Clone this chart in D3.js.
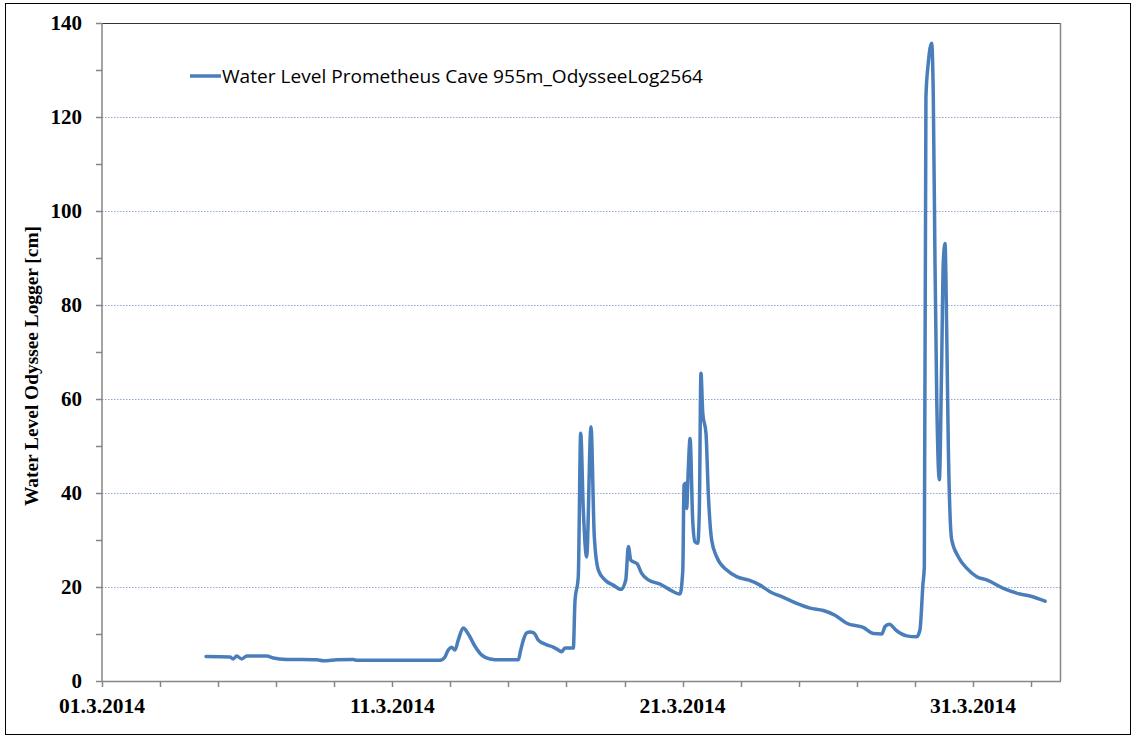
<!DOCTYPE html>
<html>
<head>
<meta charset="utf-8">
<script src="https://cdn.jsdelivr.net/npm/d3@7"></script>
<style>
  body { margin: 0; background: #fff; }
  svg { display: block; }
</style>
</head>
<body>
<svg id="chart" width="1134" height="737"></svg>
<script>
// readings of the logger
const times = [
  "2014-03-04 14:00", "2014-03-05 09:45", "2014-03-05 12:30", "2014-03-05 15:20",
  "2014-03-05 19:30", "2014-03-05 23:40", "2014-03-06 16:10", "2014-03-06 21:40",
  "2014-03-07 08:40", "2014-03-08 09:30", "2014-03-08 15:00", "2014-03-09 02:00",
  "2014-03-09 15:45", "2014-03-09 18:30", "2014-03-12 15:30", "2014-03-12 19:30",
  "2014-03-12 22:15", "2014-03-13 01:00", "2014-03-13 03:50", "2014-03-13 06:30",
  "2014-03-13 10:40", "2014-03-13 14:50", "2014-03-13 20:20", "2014-03-14 02:00",
  "2014-03-14 08:45", "2014-03-14 17:00", "2014-03-15 08:10", "2014-03-15 10:10",
  "2014-03-15 12:20", "2014-03-15 15:00", "2014-03-15 17:50", "2014-03-15 21:10",
  "2014-03-16 00:40", "2014-03-16 07:40", "2014-03-16 13:00", "2014-03-16 17:15",
  "2014-03-16 20:00", "2014-03-16 22:45", "2014-03-17 05:40", "2014-03-17 07:00",
  "2014-03-17 09:45", "2014-03-17 11:45", "2014-03-17 13:55", "2014-03-17 16:40",
  "2014-03-17 20:15", "2014-03-17 23:00", "2014-03-18 02:20", "2014-03-18 07:50",
  "2014-03-18 14:40", "2014-03-18 21:00", "2014-03-19 01:00", "2014-03-19 03:10",
  "2014-03-19 05:10", "2014-03-19 10:30", "2014-03-19 14:10", "2014-03-19 19:40",
  "2014-03-20 05:20", "2014-03-20 13:30", "2014-03-20 21:50", "2014-03-21 00:10",
  "2014-03-21 01:10", "2014-03-21 02:30", "2014-03-21 03:20", "2014-03-21 04:40",
  "2014-03-21 06:10", "2014-03-21 08:20", "2014-03-21 10:15", "2014-03-21 12:30",
  "2014-03-21 13:50", "2014-03-21 15:10", "2014-03-21 16:40", "2014-03-21 19:20",
  "2014-03-21 21:15", "2014-03-22 00:00", "2014-03-22 04:10", "2014-03-22 12:30",
  "2014-03-22 20:40", "2014-03-23 06:20", "2014-03-23 16:00", "2014-03-24 00:15",
  "2014-03-24 11:15", "2014-03-24 22:20", "2014-03-25 09:20", "2014-03-25 20:20",
  "2014-03-26 06:00", "2014-03-26 15:40", "2014-03-27 05:20", "2014-03-27 13:40",
  "2014-03-27 20:40", "2014-03-27 23:20", "2014-03-28 02:50", "2014-03-28 09:00",
  "2014-03-28 17:15", "2014-03-29 01:30", "2014-03-29 04:15", "2014-03-29 05:40",
  "2014-03-29 06:30", "2014-03-29 07:50", "2014-03-29 09:10", "2014-03-29 11:05",
  "2014-03-29 13:55", "2014-03-29 15:15", "2014-03-29 16:40", "2014-03-29 18:05",
  "2014-03-29 20:15", "2014-03-29 22:10", "2014-03-29 23:30", "2014-03-30 00:55",
  "2014-03-30 02:20", "2014-03-30 03:40", "2014-03-30 05:00", "2014-03-30 06:30",
  "2014-03-30 12:00", "2014-03-30 18:50", "2014-03-31 03:10", "2014-03-31 11:25",
  "2014-04-01 01:10", "2014-04-01 15:00", "2014-04-01 23:10", "2014-04-02 11:40"
]
const levels = [
  5.2, 5.1, 4.7, 5.3,
  4.7, 5.3, 5.3, 4.9,
  4.6, 4.5, 4.3, 4.5,
  4.6, 4.4, 4.4, 5.1,
  6.6, 7.2, 6.6, 8.7,
  11.3, 10.0, 7.4, 5.5,
  4.7, 4.5, 4.5, 6.6,
  8.7, 10.2, 10.4, 10.2,
  8.7, 7.7, 7.2, 6.6,
  6.2, 7.0, 7.0, 16.9,
  22.2, 52.7, 36.4, 26.4,
  54.1, 30.7, 23.6, 21.5,
  20.4, 19.5, 21.5, 28.6,
  25.7, 24.9, 22.9, 21.5,
  20.6, 19.4, 18.5, 23.6,
  41.7, 42.1, 36.7, 44.9,
  51.6, 34.3, 29.6, 29.3,
  36.4, 65.5, 57.0, 52.7,
  39.9, 30.0, 26.4, 23.6,
  22.2, 21.5, 20.4, 19.0,
  17.8, 16.5, 15.5, 15.0,
  14.0, 12.3, 11.4, 10.1,
  10.0, 11.6, 12.1, 10.7,
  9.6, 9.4, 10.9, 16.0,
  20.0, 24.3, 124.3, 131.4,
  135.7, 124.3, 88.9, 60.5,
  42.8, 67.6, 88.9, 93.1,
  74.7, 49.9, 36.0, 30.0,
  26.4, 24.0, 22.2, 21.5,
  19.7, 18.5, 18.1, 17.0
]
const yTicks = [0, 20, 40, 60, 80, 100, 120, 140]
const xStart = "2014-03-01"
const xEnd = "2014-04-03"
const seriesName = "Water Level Prometheus Cave 955m_OdysseeLog2564"
const yTitle = "Water Level Odyssee Logger [cm]"

const parse = d3.timeParse("%Y-%m-%d %H:%M")
const parseDay = d3.timeParse("%Y-%m-%d")
const data = times.map((t, i) => ({ t: parse(t), v: levels[i] }))

const svg = d3.select("#chart")
const plotLeft = 102, plotTop = 23, plotRight = 1060, plotBottom = 681
const serif = "'Liberation Serif', 'Times New Roman', serif"

const x = d3.scaleTime().domain([parseDay(xStart), parseDay(xEnd)]).range([plotLeft, plotRight])
const y = d3.scaleLinear().domain([0, 140]).range([plotBottom, plotTop])

// outer chart border
svg.append("rect")
  .attr("x", 5.5).attr("y", 3.5).attr("width", 1125).attr("height", 731)
  .attr("fill", "none").attr("stroke", "#000").attr("stroke-width", 1)

// gridlines, dotted light blue
svg.append("g")
  .selectAll("line")
  .data(yTicks.filter((d) => d > 0 && d < 140))
  .enter()
  .append("line")
  .attr("x1", plotLeft).attr("x2", plotRight)
  .attr("y1", (d) => Math.round(y(d)) + 0.5).attr("y2", (d) => Math.round(y(d)) + 0.5)
  .attr("stroke", "#8fa9d4")
  .attr("stroke-width", 1)
  .attr("stroke-dasharray", "1.5,1.5")

// top and right edges of plot area
svg.append("line")
  .attr("x1", plotLeft).attr("x2", plotRight).attr("y1", plotTop + 0.5).attr("y2", plotTop + 0.5)
  .attr("stroke", "#333").attr("stroke-width", 1.2)
svg.append("line")
  .attr("x1", plotRight + 0.5).attr("x2", plotRight + 0.5).attr("y1", plotTop).attr("y2", plotBottom)
  .attr("stroke", "#868686").attr("stroke-width", 1.5)

// y axis with minor ticks every 10
const yMinor = d3.range(0, 141, 10)
const yAxis = svg.append("g").attr("transform", `translate(${plotLeft},0)`)
yAxis.append("line")
  .attr("x1", 0).attr("x2", 0).attr("y1", plotTop).attr("y2", plotBottom)
  .attr("stroke", "#868686").attr("stroke-width", 1.5)
yAxis.selectAll("line.tick")
  .data(yMinor)
  .enter()
  .append("line")
  .attr("class", "tick")
  .attr("x1", -6).attr("x2", 0)
  .attr("y1", (d) => Math.round(y(d)) + 0.5).attr("y2", (d) => Math.round(y(d)) + 0.5)
  .attr("stroke", "#868686").attr("stroke-width", 1.5)
yAxis.selectAll("text")
  .data(yTicks)
  .enter()
  .append("text")
  .attr("x", -20)
  .attr("y", (d) => y(d) + 7)
  .attr("text-anchor", "end")
  .attr("font-family", serif)
  .attr("font-weight", "bold")
  .attr("font-size", 21)
  .text((d) => d)

// x axis, major ticks every 10 days, minor every 2
const xMajor = [parseDay("2014-03-01"), parseDay("2014-03-11"), parseDay("2014-03-21"), parseDay("2014-03-31")]
const xMinor = d3.timeDay.range(parseDay(xStart), d3.timeDay.offset(parseDay(xEnd), 1), 2)
  .filter((d) => d <= parseDay(xEnd))
const xAxis = svg.append("g").attr("transform", `translate(0,${plotBottom})`)
xAxis.append("line")
  .attr("x1", plotLeft).attr("x2", plotRight + 1).attr("y1", 0.5).attr("y2", 0.5)
  .attr("stroke", "#868686").attr("stroke-width", 1.5)
xAxis.selectAll("line.tick")
  .data(xMinor)
  .enter()
  .append("line")
  .attr("class", "tick")
  .attr("x1", (d) => Math.round(x(d)) + 0.5).attr("x2", (d) => Math.round(x(d)) + 0.5)
  .attr("y1", 0).attr("y2", 6)
  .attr("stroke", "#868686").attr("stroke-width", 1.5)
xAxis.selectAll("text")
  .data(xMajor)
  .enter()
  .append("text")
  .attr("x", (d) => x(d))
  .attr("y", 32)
  .attr("text-anchor", "middle")
  .attr("font-family", serif)
  .attr("font-weight", "bold")
  .attr("font-size", 21.5)
  .text(d3.timeFormat("%d.%-m.%Y"))

// y axis title
svg.append("text")
  .attr("transform", `translate(38,${(plotTop + plotBottom) / 2 + 14}) rotate(-90)`)
  .attr("text-anchor", "middle")
  .attr("font-family", serif)
  .attr("font-weight", "bold")
  .attr("font-size", 19)
  .attr("textLength", 280)
  .attr("lengthAdjust", "spacingAndGlyphs")
  .text(yTitle)

// the series
const line = d3.line()
  .x((d) => x(d.t))
  .y((d) => y(d.v))
  .curve(d3.curveMonotoneX)
svg.append("path")
  .datum(data)
  .attr("fill", "none")
  .attr("stroke", "#4a7ebb")
  .attr("stroke-width", 3.5)
  .attr("stroke-linejoin", "round")
  .attr("stroke-linecap", "round")
  .attr("d", line)

// legend
const legend = svg.append("g").attr("transform", "translate(190,76)")
legend.append("line")
  .attr("x1", 0).attr("x2", 31).attr("y1", 0).attr("y2", 0)
  .attr("stroke", "#4a7ebb").attr("stroke-width", 3.5)
legend.append("text")
  .attr("x", 32)
  .attr("y", 7)
  .attr("font-family", "'Open Sans', 'Noto Sans', sans-serif")
  .attr("font-size", 18)
  .attr("textLength", 481)
  .attr("lengthAdjust", "spacingAndGlyphs")
  .attr("fill", "#000")
  .text(seriesName)
</script>
</body>
</html>
